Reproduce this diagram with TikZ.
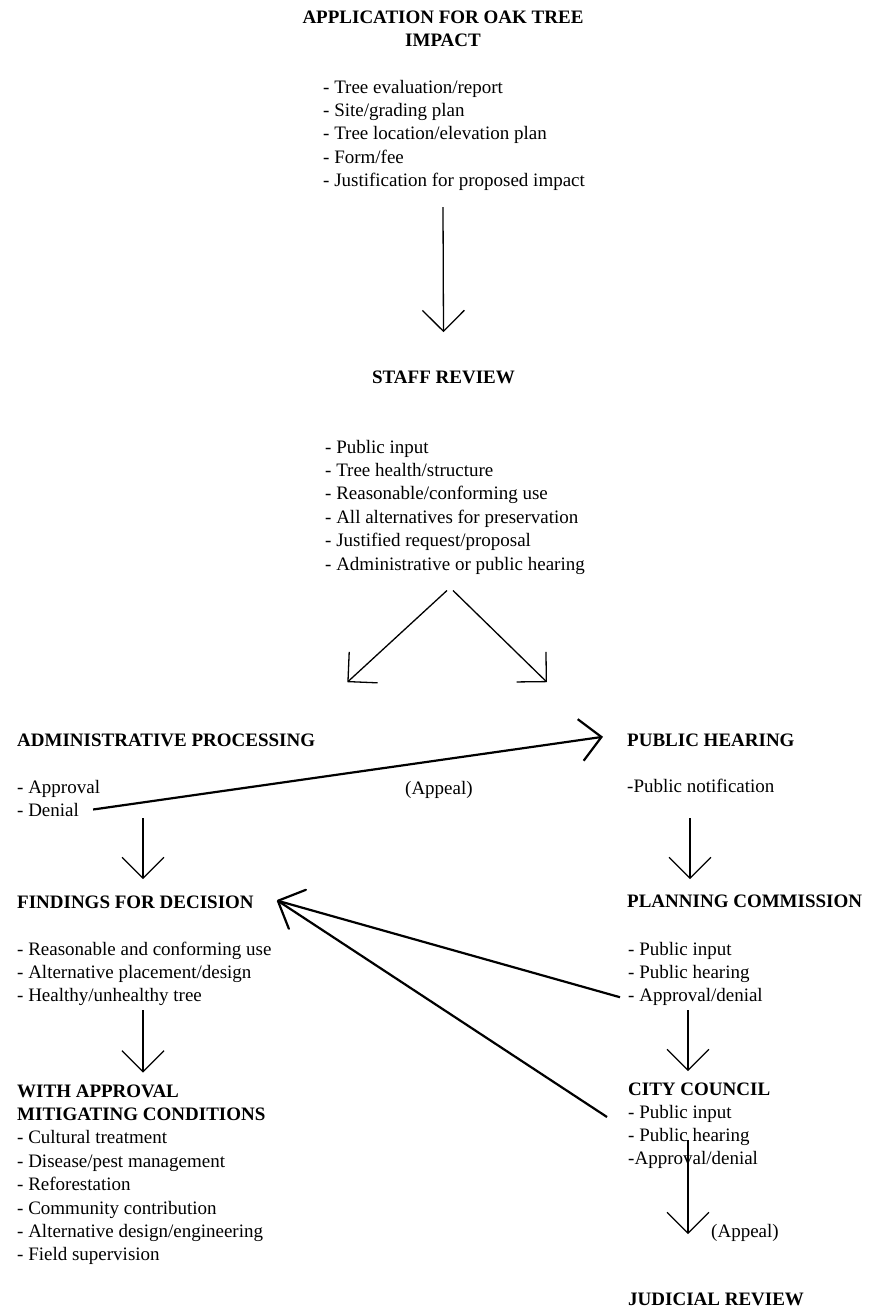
\documentclass[tikz,border=0pt]{standalone}
\usepackage{fontspec}
\setmainfont{Liberation Serif}
\usetikzlibrary{arrows.meta}
\newcommand{\bodyfont}{\fontsize{19}{23.4}\selectfont}
\tikzset{
    txt/.style={inner sep=0pt, font=\bodyfont},
    head/.style={inner sep=0pt, font=\bodyfont\bfseries},
    itemlist/.style={txt, anchor=north west, align=left},
    arr/.style={line width=1.3pt, -{Straight Barb[length=21pt,width=42pt]}},
    heavy/.style={line width=2.2pt}
}

\begin{document}
\begin{tikzpicture}[x=1pt, y=-1pt]
    \fill[white] (0,0) rectangle (870,1310);
    \useasboundingbox (0,0) rectangle (870,1310);
    % Application
    \node[head, anchor=north, align=center] (title) at (443,6.6) {\strut APPLICATION FOR OAK TREE\\IMPACT};
    \node[itemlist] (applist) at (323,76.6) {\strut- Tree evaluation/report\\- Site/grading plan\\- Tree location/elevation plan\\- Form/fee\\- Justification for proposed impact};
    % Staff review
    \node[head, anchor=base] (staff) at (443.5,383) {STAFF REVIEW};
    \node[itemlist] (stafflist) at (325,436.6) {\strut- Public input\\- Tree health/structure\\- Reasonable/conforming use\\- All alternatives for preservation\\- Justified request/proposal\\- Administrative or public hearing};
    % Left column
    \node[head, anchor=base west] (admin) at (17,746) {ADMINISTRATIVE PROCESSING};
    \node[txt, anchor=base west] (approval) at (17,793) {- Approval};
    \node[txt, anchor=base west] (denial) at (17,816) {- Denial};
    \node[head, anchor=base west] (findings) at (17,908) {FINDINGS FOR DECISION};
    \node[itemlist] (findlist) at (17,938.6) {\strut- Reasonable and conforming use\\- Alternative placement/design\\- Healthy/unhealthy tree};
    \node[head, anchor=north west, align=left] (mitigate) at (17,1080.6) {\strut WITH APPROVAL\\MITIGATING CONDITIONS};
    \node[itemlist] (mitlist) at (17,1127.4) {\strut- Cultural treatment\\- Disease/pest management\\- Reforestation\\- Community contribution\\- Alternative design/engineering\\- Field supervision};
    % Right column
    \node[head, anchor=base west] (hearing) at (627,746) {PUBLIC HEARING};
    \node[txt, anchor=base west] (notice) at (627,792) {-Public notification};
    \node[txt, anchor=base west] (appeal) at (405,794) {(Appeal)};
    \node[head, anchor=base west] (planning) at (627,907) {PLANNING COMMISSION};
    \node[itemlist] (planlist) at (628,938.6) {\strut- Public input\\- Public hearing\\- Approval/denial};
    \node[head, anchor=base west] (council) at (628,1095) {CITY COUNCIL};
    \node[itemlist] (councillist) at (628,1101.6) {\strut- Public input\\- Public hearing\\-Approval/denial};
    \node[txt, anchor=base west] (courtappeal) at (711,1237) {(Appeal)};
    \node[head, anchor=base west] (judicial) at (628,1305) {JUDICIAL REVIEW};
    % Arrows down the middle
    \draw[arr] ([yshift=-16pt]title.south |- applist.south) -- ([yshift=38pt]staff.north);
    \draw[arr] ([xshift=3.5pt,yshift=-16pt]staff.south |- stafflist.south) -- ([xshift=32pt,yshift=51pt]admin.north east);
    \draw[arr] ([xshift=9.5pt,yshift=-16pt]staff.south |- stafflist.south) -- ([xshift=-80pt,yshift=51pt]hearing.north west);
    % Appeal to public hearing
    \draw[arr, heavy] ([xshift=14pt]denial.east) -- ([xshift=-24pt,yshift=3pt]hearing.west);
    % Left column arrows
    \draw[arr] ([xshift=126pt,yshift=-2pt]denial.south west) -- ([xshift=126pt,yshift=16pt]findings.north west);
    \draw[arr] ([xshift=126pt,yshift=-4pt]findlist.south west) -- ([xshift=126pt,yshift=8pt]mitigate.north west);
    % Right column arrows
    \draw[arr] ([xshift=63pt,yshift=-26pt]notice.south west) -- ([xshift=63pt,yshift=15pt]planning.north west);
    \draw[arr] ([xshift=60pt,yshift=-4pt]planlist.south west) -- ([xshift=60pt,yshift=11pt]council.north west);
    \draw[arr] ([xshift=60pt,yshift=-45pt]council.south west) -- ([xshift=60pt,yshift=58pt]judicial.north west);
    % Back to findings
    \coordinate (fdtip) at ([xshift=24pt,yshift=1pt]findings.east);
    \draw[heavy] ([xshift=-8pt,yshift=9pt]planlist.south west) -- (fdtip);
    \draw[heavy] ([xshift=-21pt,yshift=-15.4pt]councillist.north west) -- (fdtip);
    \draw[heavy, line cap=round, line join=round] ([shift={(28,-11)}]fdtip) -- (fdtip) -- ([shift={(11,28)}]fdtip);
\end{tikzpicture}
\end{document}
